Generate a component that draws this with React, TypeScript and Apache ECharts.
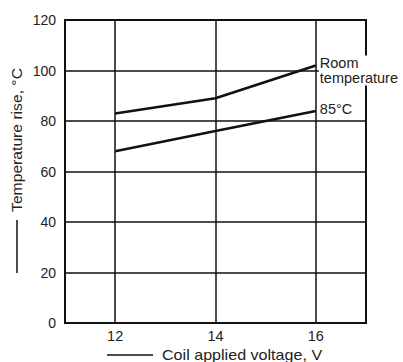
import React, { useEffect, useRef } from "react";
import * as echarts from "echarts";

const voltages = [12, 14, 16];
const roomTemp = [83, 89, 102];
const hot85 = [68, 76, 84];
const xGridValues = [12, 14, 16];
const seriesNames = ["Room\ntemperature", "85°C"];
const xTitle = "Coil applied voltage, V";
const yTitle = "Temperature rise, °C";

const FONT = "'Liberation Sans', Arial, sans-serif";

export default function App() {
  const ref = useRef<HTMLDivElement>(null);
  useEffect(() => {
    if (!ref.current) return;
    const chart = echarts.init(ref.current, null, { renderer: "svg" });
    const mk = (vals: number[]) => voltages.map((v, i) => [v, vals[i]]);
    chart.setOption({
      animation: false,
      backgroundColor: "#fff",
      grid: {
        left: 65,
        top: 20,
        right: 37,
        bottom: 39,
        show: true,
        borderColor: "#111",
        borderWidth: 2,
        backgroundColor: "transparent",
        z: 3,
      },
      xAxis: {
        type: "value",
        min: 11,
        max: 17,
        interval: 1,
        axisLine: { show: false },
        axisTick: { show: false },
        splitLine: { show: false },
        axisLabel: {
          color: "#222",
          fontFamily: FONT,
          fontSize: 14.5,
          margin: 5,
          formatter: (v: number) => (xGridValues.includes(v) ? String(v) : ""),
        },
      },
      yAxis: {
        type: "value",
        min: 0,
        max: 120,
        interval: 20,
        axisLine: { show: false },
        axisTick: { show: false },
        splitLine: { show: true, lineStyle: { color: "#111", width: 1.5 } },
        axisLabel: { color: "#222", fontFamily: FONT, fontSize: 14, margin: 9 },
      },
      series: [
        {
          type: "line",
          data: mk(roomTemp),
          symbol: "none",
          lineStyle: { color: "#111", width: 2.6 },
          z: 5,
          endLabel: {
            show: true,
            formatter: seriesNames[0],
            color: "#222",
            fontFamily: FONT,
            fontSize: 14.5,
            lineHeight: 15,
            align: "left",
            distance: 3,
            offset: [0, 5],
            backgroundColor: "#fff",
            padding: [0, 0, 0, 1],
          },
          markLine: {
            silent: true,
            symbol: "none",
            label: { show: false },
            lineStyle: { color: "#111", width: 1.5, type: "solid" },
            data: xGridValues.map((v) => ({ xAxis: v })),
            z: 2,
          },
        },
        {
          type: "line",
          data: mk(hot85),
          symbol: "none",
          lineStyle: { color: "#111", width: 2.6 },
          z: 5,
          endLabel: {
            show: true,
            formatter: seriesNames[1],
            color: "#222",
            fontFamily: FONT,
            fontSize: 14.5,
            align: "left",
            distance: 3,
            offset: [0, -2],
            backgroundColor: "#fff",
            padding: [0, 0, 0, 1],
          },
        },
      ],
      graphic: [
        {
          type: "text",
          x: 17,
          y: 140,
          rotation: Math.PI / 2,
          scaleX: 1.12,
          style: {
            text: yTitle,
            fill: "#222",
            font: `14px ${FONT}`,
            textAlign: "center",
            textVerticalAlign: "middle",
          },
        },
        {
          type: "line",
          shape: { x1: 17, y1: 220, x2: 17, y2: 273 },
          style: { stroke: "#111", lineWidth: 1.5 },
        },
        {
          type: "line",
          shape: { x1: 107, y1: 355, x2: 153, y2: 355 },
          style: { stroke: "#111", lineWidth: 1.5 },
        },
        {
          type: "text",
          x: 162,
          y: 355,
          scaleX: 1.15,
          style: {
            text: xTitle,
            fill: "#222",
            font: `14px ${FONT}`,
            textAlign: "left",
            textVerticalAlign: "middle",
          },
        },
      ],
    });
    return () => chart.dispose();
  }, []);
  return <div ref={ref} style={{ width: 403, height: 362, position: "absolute", left: 0, top: 0 }} />;
}
